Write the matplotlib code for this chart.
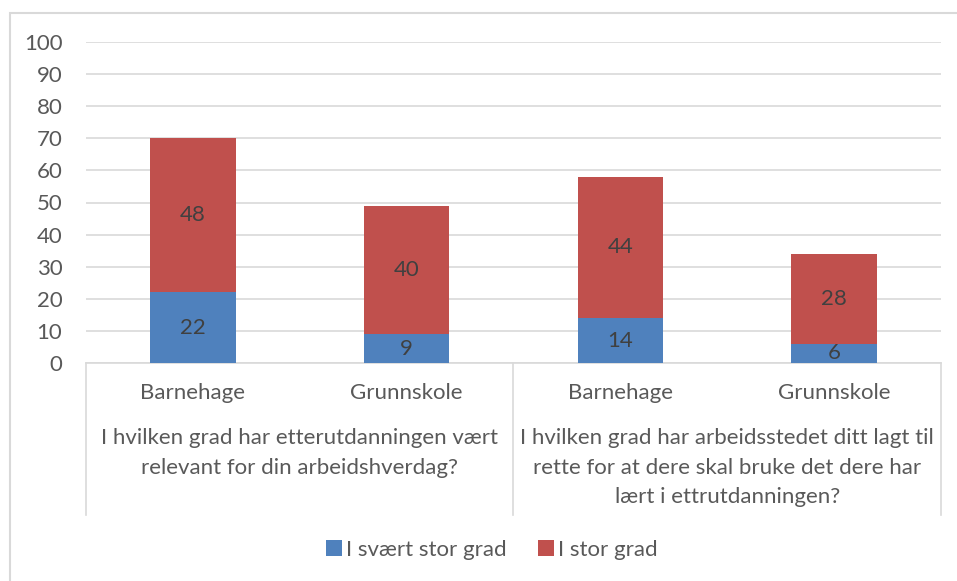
import matplotlib
matplotlib.use("Agg")
import matplotlib.pyplot as plt
from matplotlib.lines import Line2D
from matplotlib.patches import Rectangle

plt.rcParams['font.family'] = ['Lato', 'DejaVu Sans']

# data
categories = ["Barnehage", "Grunnskole", "Barnehage", "Grunnskole"]
groups = ["I hvilken grad har etterutdanningen vært\nrelevant for din arbeidshverdag?",
          "I hvilken grad har arbeidsstedet ditt lagt til\nrette for at dere skal bruke det dere har\nlært i ettrutdanningen?"]
svaert_stor = [22, 9, 14, 6]
stor = [48, 40, 44, 28]
series_names = ["I svært stor grad", "I stor grad"]

W, H = 957, 581
fig = plt.figure(figsize=(W / 100, H / 100), dpi=100)
txt = "#595959"
grid = "#D9D9D9"
fs = 16

def fx(px):
    return px / W

def fy(py):
    return 1 - py / H

# outer border (right and bottom edges fall outside the image)
fig.patches.append(Rectangle((fx(10), fy(600)), fx(960), 587 / H, transform=fig.transFigure,
                             fill=False, edgecolor=grid, linewidth=1.5))

ax = fig.add_axes([fx(86), fy(363), fx(941 - 86), (363 - 42) / H])
x = list(range(len(categories)))
b1 = ax.bar(x, svaert_stor, width=0.4, color="#4F81BD", label=series_names[0], zorder=3)
b2 = ax.bar(x, stor, width=0.4, bottom=svaert_stor, color="#C0504D", label=series_names[1], zorder=3)
for bars, vals in ((b1, svaert_stor), (b2, stor)):
    ax.bar_label(bars, labels=[str(v) for v in vals], label_type="center",
                 color="#404040", fontsize=fs)

ax.set_xlim(-0.5, 3.5)
ax.set_ylim(0, 100)
ax.set_yticks(range(0, 101, 10))
ax.yaxis.grid(True, color=grid, linewidth=1.2)
ax.set_axisbelow(True)
for s in ["top", "right", "left"]:
    ax.spines[s].set_visible(False)
ax.spines["bottom"].set_color(grid)
ax.spines["bottom"].set_linewidth(1.2)
ax.tick_params(axis="y", length=0, pad=17, labelsize=fs, labelcolor=txt)
ax.set_xticks([])

# multi-level category axis
for px in (86, 513, 941):
    fig.add_artist(Line2D([fx(px), fx(px)], [fy(363), fy(515)], transform=fig.transFigure,
                          color=grid, linewidth=1.2))
for i, c in enumerate(categories):
    xf = fx(86 + (i + 0.5) * (941 - 86) / 4)
    fig.text(xf, fy(393), c, ha="center", va="center", fontsize=fs, color=txt)
for g, lbl in enumerate(groups):
    xf = fx(86 + (g + 0.5) * (941 - 86) / 2)
    fig.text(xf, fy(428), lbl, ha="center", va="top", fontsize=fs, color=txt, linespacing=1.6)

fig.legend(handles=[b1, b2], loc="center", bbox_to_anchor=(fx(492), fy(550)), ncol=2,
           frameon=False, fontsize=fs, labelcolor=txt, handlelength=0.7, handleheight=0.7,
           handletextpad=0.2, columnspacing=1.4)

fig.savefig("out.png", dpi=100)
